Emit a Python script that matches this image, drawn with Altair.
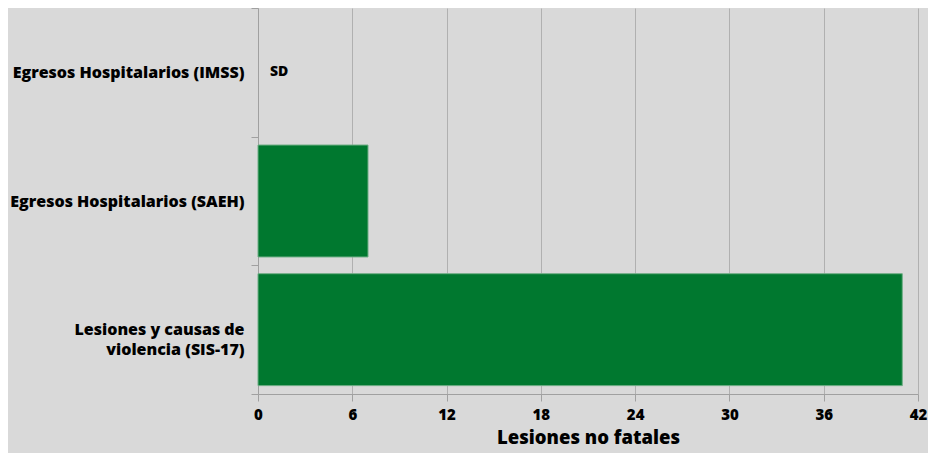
import altair as alt
import pandas as pd

categories = ["Egresos Hospitalarios (IMSS)", "Egresos Hospitalarios (SAEH)", "Lesiones y causas de violencia (SIS-17)"]
values = [None, 7, 41]
labels = ["SD", "", ""]
x_ticks = [0, 6, 12, 18, 24, 30, 36, 42]

df = pd.DataFrame({"cat": categories, "val": values, "lab": labels})

label_expr = ("datum.value == 'Lesiones y causas de violencia (SIS-17)' ? "
              "['Lesiones y causas de', 'violencia (SIS-17)\u00a0\u00a0\u00a0'] : datum.value")

FONT = "Open Sans"
W = 800

y_enc = alt.Y("cat:N", sort=categories, title=None,
              scale=alt.Scale(paddingInner=0, paddingOuter=0),
              axis=alt.Axis(labelExpr=label_expr, labelFont=FONT, labelFontWeight=W,
                            labelFontSize=16, labelColor="#000000", labelPadding=7,
                            labelLimit=400,
                            tickSize=7, tickColor="#a0a0a0", domainColor="#a0a0a0",
                            tickBand="extent", grid=False, labelLineHeight=20))

x_enc = alt.X("val:Q", title="Lesiones no fatales",
              scale=alt.Scale(domain=[0, 42], nice=False),
              axis=alt.Axis(values=x_ticks, labelFont=FONT, labelFontWeight=W,
                            labelFontSize=15, labelColor="#000000", labelPadding=6,
                            labelFlush=False,
                            tickSize=7, tickColor="#a0a0a0", domainColor="#a0a0a0",
                            gridColor="#b0b0b0", titleFont=FONT, titleFontSize=18.5,
                            titleFontWeight=W, titleColor="#000000", titlePadding=6))

bars = alt.Chart(df).mark_bar(color="#00782f", stroke="#6fae86", strokeWidth=1,
                              height=alt.RelativeBandSize(0.87)).encode(
    x=x_enc, y=y_enc
)

text = alt.Chart(df).mark_text(align="left", dx=12, font=FONT, fontWeight=W,
                               fontSize=14, color="#000000").encode(
    x=alt.X("zero:Q"), y=alt.Y("cat:N", sort=categories), text="lab:N"
).transform_calculate(zero="0")

chart = alt.layer(bars, text).properties(
    width=660, height=386,
    background="#d9d9d9",
    autosize=alt.AutoSizeParams(type="none"),
    padding={"left": 250, "top": 0, "right": 10, "bottom": 59},
).configure_view(stroke=None, fill="#d9d9d9")

chart.save("out.html", embed_options={"renderer": "svg", "actions": False})
